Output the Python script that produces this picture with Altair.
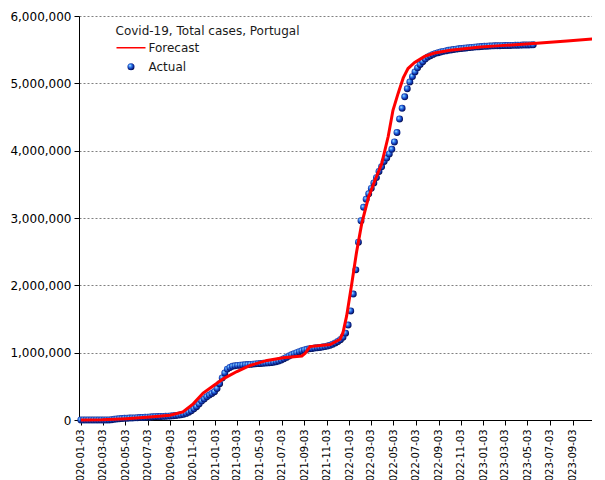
import altair as alt
import pandas as pd

# ---------------- data ----------------
actual_start = "2020-01-03"  # weekly observations (every 7 days)
actual_2020 = [0, 0, 0, 0, 0, 0, 0, 0, 0,
               13, 112, 1020, 4268,
               9886, 15472, 19022, 22797,
               25190, 26715, 28810, 30200, 31946,
               33969, 36180, 38464, 40866,
               43156, 45679, 47765, 49692, 51072,
               52351, 53548, 55211, 57448,
               60258, 63310, 67176, 72055,
               77284, 85574, 98055, 116109, 137272,
               166900, 198011, 236015, 280394,
               312553, 344556, 370787, 394573]
actual_2021 = [420629, 466709, 539416, 624469, 698397,
               755774, 780000, 797000, 804956,
               811000, 814000, 817000, 820000,
               823000, 826000, 830000, 834000, 837000,
               839000, 842000, 845000, 848000,
               852000, 858000, 866000, 877000,
               891000, 909000, 930000, 950000, 968000,
               985000, 1000000, 1015000, 1029000,
               1041000, 1050000, 1057000, 1062000,
               1068000, 1073000, 1078000, 1083000, 1090000,
               1098000, 1109000, 1126000, 1145000,
               1165000, 1192000, 1230000, 1290000, 1410000]
actual_2022 = [1620000, 1870000, 2230000, 2640000,
               2960000, 3160000, 3280000, 3360000,
               3440000, 3520000, 3600000, 3690000,
               3760000, 3840000, 3890000, 3950000, 4020000,
               4130000, 4270000, 4470000, 4630000,
               4800000, 4920000, 5020000, 5100000,
               5170000, 5230000, 5280000, 5320000, 5360000,
               5390000, 5410000, 5430000, 5445000,
               5455000, 5465000, 5475000, 5482000, 5490000,
               5496000, 5502000, 5508000, 5513000,
               5518000, 5522000, 5526000, 5530000,
               5534000, 5538000, 5541000, 5544000, 5547000]
actual_2023 = [5550000, 5552000, 5554000, 5556000,
               5557000, 5558000, 5559000, 5560000,
               5561000, 5562000, 5563000, 5564000, 5565000,
               5566000, 5567000, 5568000, 5569000,
               5570000, 5571000, 5572000]

forecast_dates = ["2020-01-03", "2020-03-01", "2020-05-05", "2020-07-09", "2020-09-02",
                  "2020-10-07", "2020-11-04", "2020-12-01", "2020-12-29", "2021-01-26",
                  "2021-03-03", "2021-04-08", "2021-05-24", "2021-07-07", "2021-08-27",
                  "2021-09-05", "2021-09-18", "2021-11-12", "2021-12-09", "2021-12-17",
                  "2021-12-27", "2022-01-10", "2022-01-23", "2022-02-06", "2022-02-24",
                  "2022-03-14", "2022-04-01", "2022-04-19", "2022-05-02", "2022-05-16",
                  "2022-05-30", "2022-06-12", "2022-06-30", "2022-07-27", "2022-08-23",
                  "2022-10-05", "2022-12-26", "2023-02-18", "2023-05-19", "2023-08-19",
                  "2023-10-27"]
forecast_cases = [0, 2000, 20000, 45000, 72000,
                  120000, 240000, 400000, 510000, 615000,
                  720000, 810000, 885000, 925000, 950000,
                  990000, 1090000, 1120000, 1200000, 1300000,
                  1550000, 2030000, 2500000, 2920000, 3300000,
                  3560000, 3800000, 4210000, 4600000, 4850000,
                  5080000, 5220000, 5310000, 5400000, 5450000,
                  5490000, 5540000, 5560000, 5590000, 5630000,
                  5660000]

x_tick_labels = ["2020-01-03", "2020-03-03", "2020-05-03", "2020-07-03", "2020-09-03",
                 "2020-11-03", "2021-01-03", "2021-03-03", "2021-05-03", "2021-07-03",
                 "2021-09-03", "2021-11-03", "2022-01-03", "2022-03-03", "2022-05-03",
                 "2022-07-03", "2022-09-03", "2022-11-03", "2023-01-03", "2023-03-03",
                 "2023-05-03", "2023-07-03", "2023-09-03"]
y_ticks = [0, 1000000, 2000000, 3000000, 4000000, 5000000, 6000000]
series_names = ["Forecast", "Actual"]
series_colors = ["#ff0000", "#2255dd"]
title_text = "Covid-19, Total cases, Portugal"

# ---------------- tables ----------------
actual_cases = actual_2020 + actual_2021 + actual_2022 + actual_2023
actual_dates = pd.date_range(actual_start, periods=len(actual_cases), freq="7D").strftime("%Y-%m-%d").tolist()
actual_df = pd.DataFrame({"date": actual_dates, "cases": actual_cases, "series": "Actual"})
forecast_df = pd.DataFrame({"date": forecast_dates, "cases": forecast_cases, "series": "Forecast"})


def dt(s):
    y, m, d = (int(v) for v in s.split("-"))
    return alt.DateTime(year=y, month=m, date=d, utc=True)


FONT = "DejaVu Sans"

x_enc = alt.X("date:T",
              scale=alt.Scale(type="utc", domain=[dt("2019-12-29"), dt("2023-10-26")]),
              axis=alt.Axis(values=[dt(s) for s in x_tick_labels],
                            labelExpr="utcFormat(datum.value, '%Y-%m-%d')",
                            labelAngle=270, labelFont=FONT, labelFontSize=10,
                            labelPadding=4, labelOverlap=False, labelFlush=False,
                            tickSize=5, grid=False, title=None))
y_enc = alt.Y("cases:Q",
              scale=alt.Scale(domain=[0, 6000000], nice=False),
              axis=alt.Axis(values=y_ticks, format=",d", grid=True, gridDash=[2, 2],
                            gridColor="#808080", gridWidth=1, labelFont=FONT, labelFontSize=12,
                            labelPadding=3, tickSize=5, title=None))

sphere = {
    "gradient": "radial",
    "x1": 0.35, "y1": 0.32, "r1": 0.0,
    "x2": 0.45, "y2": 0.45, "r2": 0.6,
    "stops": [
        {"offset": 0.0, "color": "#d0f4ff"},
        {"offset": 0.3, "color": "#3d90f5"},
        {"offset": 0.65, "color": "#1035b5"},
        {"offset": 1.0, "color": "#000028"},
    ],
}

points = alt.Chart(actual_df).mark_circle(size=48, opacity=1, fill=sphere).encode(x=x_enc, y=y_enc)

line = alt.Chart(forecast_df).mark_line(color="#ff0000", strokeWidth=3).encode(x=x_enc, y=y_enc)

V = "(isString(datum) ? datum : datum.value)"
legend = alt.Legend(
    title=title_text, orient="none", legendX=36.5, legendY=10.2, padding=0,
    titleFont=FONT, titleFontSize=12, titleFontWeight="normal", titleColor="#1a1a1a",
    titlePadding=0, titleLimit=400,
    labelFont=FONT, labelFontSize=12, labelColor="#1a1a1a", labelOffset=2, labelLimit=300,
    clipHeight=19, rowPadding=0, symbolOpacity=1,
    symbolType={"expr": f"({V} === 'Forecast' ? 'stroke' : 'circle')"},
    symbolSize={"expr": f"({V} === 'Forecast' ? 841 : 50)"},
    symbolStrokeWidth={"expr": f"({V} === 'Forecast' ? 1.5 : 0)"},
    symbolFillColor={"expr": f"({V} === 'Forecast' ? null : {{gradient: 'radial', x1: 0.35, y1: 0.32, r1: 0, x2: 0.45, y2: 0.45, r2: 0.6, stops: [{{offset: 0, color: '#d0f4ff'}}, {{offset: 0.3, color: '#3d90f5'}}, {{offset: 0.65, color: '#1035b5'}}, {{offset: 1, color: '#000028'}}]}})"},
)

legend_layer = alt.Chart(forecast_df).mark_line(opacity=0).encode(
    x=x_enc, y=y_enc,
    color=alt.Color("series:N", scale=alt.Scale(domain=series_names, range=series_colors), legend=legend),
)

chart = alt.layer(points, line, legend_layer).properties(
    width=513, height=404, autosize="none",
    padding={"left": 71, "top": 8, "right": 0, "bottom": 60},
    background="white",
).configure_view(strokeWidth=0).configure_axis(
    domainColor="#000000", tickColor="#000000", labelColor="#000000", domainWidth=1, tickWidth=1,
)

chart.save("out.html", embed_options={"renderer": "svg", "actions": False})
